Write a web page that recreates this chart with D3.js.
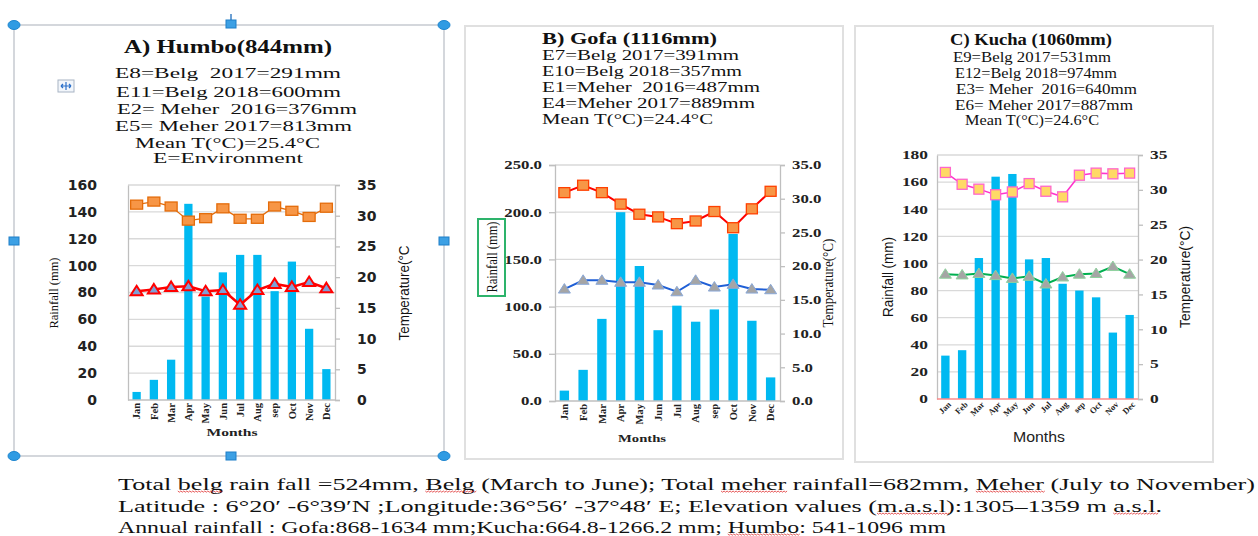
<!DOCTYPE html>
<html lang="en">
<head>
<meta charset="UTF-8" />
<title>Rainfall and temperature - Humbo, Gofa, Kucha</title>
<script src="https://d3js.org/d3.v7.min.js"></script>
<style>
  body { margin: 0; background: #fff; }
  svg { display: block; }
  text { white-space: pre; }
</style>
</head>
<body>
<svg id="chart" width="1258" height="536"></svg>
<script>
// ---- data ----
const months = ["Jan", "Feb", "Mar", "Apr", "May", "Jun", "Jul", "Aug", "sep", "Oct", "Nov", "Dec"];

const humboRain = [6, 15, 30, 146, 77, 95, 108, 108, 81, 103, 53, 23];
const humboTmax = [31.8, 32.3, 31.5, 29.2, 29.6, 31.2, 29.5, 29.5, 31.5, 30.8, 29.8, 31.3];
const humboTmin = [17.7, 18.0, 18.4, 18.5, 17.7, 17.9, 15.5, 17.9, 18.9, 18.4, 19.2, 18.2];

const gofaRain = [11, 33, 87, 200, 143, 75, 101, 84, 97, 177, 85, 25];
const gofaTmax = [30.9, 32.0, 30.9, 29.2, 27.7, 27.3, 26.3, 26.7, 28.1, 25.7, 28.5, 31.1];
const gofaTmin = [16.6, 17.9, 17.9, 17.6, 17.6, 17.2, 16.2, 17.9, 16.9, 17.3, 16.6, 16.5];

const kuchaRain = [32, 36, 104, 164, 166, 103, 104, 85, 80, 75, 49, 62];
const kuchaTmax = [32.5, 30.8, 30.1, 29.3, 29.7, 30.9, 29.8, 29.0, 32.1, 32.4, 32.3, 32.4];
const kuchaTmin = [17.9, 17.8, 18.0, 17.7, 17.3, 17.6, 16.5, 17.5, 17.9, 18.0, 19.0, 17.9];

const humboRainTicks = [0, 20, 40, 60, 80, 100, 120, 140, 160];
const gofaRainTicks = [0, 50, 100, 150, 200, 250];
const kuchaRainTicks = [0, 20, 40, 60, 80, 100, 120, 140, 160, 180];
const tempTicks = [0, 5, 10, 15, 20, 25, 30, 35];

const humboNotes = ["A) Humbo(844mm)", "E8=Belg  2017=291mm", "E11=Belg 2018=600mm", "E2= Meher  2016=376mm",
  "E5= Meher 2017=813mm", "Mean T(\u00B0C)=25.4\u00B0C", "E=Environment"];
const gofaNotes = ["B) Gofa (1116mm)", "E7=Belg 2017=391mm", "E10=Belg 2018=357mm", "E1=Meher  2016=487mm",
  "E4=Meher 2017=889mm", "Mean T(\u00B0C)=24.4\u00B0C"];
const kuchaNotes = ["C) Kucha (1060mm)", "E9=Belg 2017=531mm", "E12=Belg 2018=974mm", "E3= Meher  2016=640mm",
  "E6= Meher 2017=887mm", "Mean T(\u00B0C)=24.6\u00B0C"];

const footNotes = [
  "Total belg rain fall =524mm, Belg (March to June); Total meher rainfall=682mm, Meher (July to November)",
  "Latitude : 6\u00B020\u2032 -6\u00B039\u2032N ;Longitude:36\u00B056\u2032 -37\u00B048\u2032 E; Elevation values (m.a.s.l):1305\u20131359 m a.s.l.",
  "Annual rainfall : Gofa:868-1634 mm;Kucha:664.8-1266.2 mm; Humbo: 541-1096 mm"
];
const footUnderlined = [["belg", "Belg", "meher", "Meher"], ["m.a.s.l", "a.s.l"], ["Humbo"]];

// ---- drawing ----
const svg = d3.select("#chart");
const SERIF = "'Liberation Serif', 'Times New Roman', serif";
const SANS = "'Liberation Sans', Arial, sans-serif";
const VERD = "'DejaVu Sans', Verdana, sans-serif";

// frames behind everything
svg.append("rect").attr("x", 465).attr("y", 26).attr("width", 378).attr("height", 433)
  .attr("fill", "none").attr("stroke", "#e0e0e0").attr("stroke-width", 2);
svg.append("rect").attr("x", 855).attr("y", 26).attr("width", 358).attr("height", 436)
  .attr("fill", "none").attr("stroke", "#e0e0e0").attr("stroke-width", 2);
svg.append("rect").attr("x", 14).attr("y", 25).attr("width", 430).attr("height", 431)
  .attr("fill", "none").attr("stroke", "#d4d7dc").attr("stroke-width", 2);

// selection handles of panel A
svg.append("line").attr("x1", 231).attr("x2", 231).attr("y1", 14).attr("y2", 22)
  .attr("stroke", "#3b7fc4").attr("stroke-width", 1.5);
[[14, 25], [444, 25], [14, 456], [444, 456]].forEach(([cx, cy]) => {
  svg.append("ellipse").attr("cx", cx).attr("cy", cy).attr("rx", 6).attr("ry", 4.5)
    .attr("fill", "#2f9be3").attr("stroke", "#1f86cf");
});
[[231, 24], [14, 241], [444, 241], [231, 456]].forEach(([cx, cy]) => {
  svg.append("rect").attr("x", cx - 5).attr("y", cy - 4).attr("width", 10).attr("height", 8)
    .attr("fill", "#3da0e4").attr("stroke", "#1f7fc8");
});
// little move icon
const icon = svg.append("g").attr("transform", "translate(66,86)");
icon.append("rect").attr("x", -8).attr("y", -6).attr("width", 16).attr("height", 12)
  .attr("fill", "#f2f6fb").attr("stroke", "#a8b4c4");
icon.append("path").attr("d", "M-5,0H5M0,-4V4M-5,0l2,-2M-5,0l2,2M5,0l-2,-2M5,0l-2,2")
  .attr("stroke", "#2a6fc9").attr("stroke-width", 1.2).attr("fill", "none");

function stretch(sel, sx) {
  sel.each(function () {
    const t = d3.select(this);
    t.attr("x", +t.attr("x") / sx).attr("transform", `scale(${sx},1)`);
  });
}

function notes(lines, spec) {
  lines.forEach((s, i) => {
    const l = spec.lines[i];
    svg.append("text").attr("x", l[0]).attr("y", l[2])
      .attr("dominant-baseline", "central")
      .attr("textLength", l[1]).attr("lengthAdjust", "spacingAndGlyphs")
      .style("font-family", SERIF)
      .style("font-size", (i === 0 ? spec.titleSize : spec.size) + "px")
      .style("font-weight", i === 0 ? "bold" : "normal")
      .attr("fill", "#111").text(s);
  });
}

function rotLabel(text, x, y, len, font, size, weight) {
  svg.append("text").attr("transform", `translate(${x},${y}) rotate(-90)`)
    .attr("text-anchor", "middle").attr("dominant-baseline", "central")
    .attr("textLength", len).attr("lengthAdjust", "spacingAndGlyphs")
    .style("font-family", font).style("font-size", size + "px").style("font-weight", weight || "normal")
    .attr("fill", "#111").text(text);
}

function drawPanel(p) {
  const g = svg.append("g");
  const x = d3.scaleBand().domain(months).range([p.left, p.right])
    .paddingInner(p.barPad).paddingOuter(p.barPad / 2);
  const y = d3.scaleLinear().domain([0, p.rainMax]).range([p.bottom, p.top]);
  const yT = d3.scaleLinear().domain([0, 35]).range([p.bottom, p.top]);
  const cx = m => x(m) + x.bandwidth() / 2;

  g.selectAll(".grid").data(p.rainTicks.slice(1)).join("line").attr("class", "grid")
    .attr("x1", p.left).attr("x2", p.right).attr("y1", d => y(d)).attr("y2", d => y(d))
    .attr("stroke", "#d9d9d9").attr("stroke-width", 1.3);

  g.selectAll(".bar").data(p.rain).join("rect").attr("class", "bar")
    .attr("x", (d, i) => x(months[i])).attr("y", d => y(d))
    .attr("width", x.bandwidth()).attr("height", d => p.bottom - y(d))
    .attr("fill", "#00b9f1");

  const la = g.append("g").attr("transform", `translate(${p.left},0)`)
    .call(d3.axisLeft(y).tickValues(p.rainTicks).tickFormat(p.fmt)
      .tickSize(p.leftTick).tickPadding(p.leftPad));
  const ra = g.append("g").attr("transform", `translate(${p.right},0)`)
    .call(d3.axisRight(yT).tickValues(tempTicks).tickFormat(p.fmt)
      .tickSize(5).tickPadding(p.rightPad));
  [la, ra].forEach(a => {
    a.selectAll("path,line").attr("stroke", "#bfbfbf").attr("stroke-width", 1.3);
    a.selectAll("text").attr("fill", "#222")
      .style("font-family", p.tickFont).style("font-size", p.tickSize + "px")
      .style("font-weight", "bold");
    if (p.tickStretch) stretch(a.selectAll("text"), p.tickStretch);
  });
  g.append("line").attr("x1", p.left).attr("x2", p.right).attr("y1", p.bottom).attr("y2", p.bottom)
    .attr("stroke", p.baseColor).attr("stroke-width", 1.5);

  // month labels
  g.selectAll(".mon").data(months).join("text").attr("class", "mon")
    .attr("transform", d => p.monthRot === -90
      ? `translate(${cx(d)},${p.bottom + 3}) rotate(-90)`
      : `translate(${cx(d) + 4},${p.bottom + 4}) rotate(-45)`)
    .attr("text-anchor", "end").attr("dy", "0.35em")
    .style("font-family", SERIF).style("font-size", p.monthSize + "px").style("font-weight", "bold")
    .attr("fill", "#222").text(d => d);

  // temperature lines
  const line = d3.line().x((d, i) => cx(months[i])).y(d => yT(d));
  g.append("path").datum(p.tmax).attr("d", line).attr("fill", "none")
    .attr("stroke", p.maxLine).attr("stroke-width", p.maxWidth);
  g.append("path").datum(p.tmin).attr("d", line).attr("fill", "none")
    .attr("stroke", p.minLine).attr("stroke-width", p.minWidth);

  g.selectAll(".sq").data(p.tmax).join("rect").attr("class", "sq")
    .attr("x", (d, i) => cx(months[i]) - p.sq[0] / 2).attr("y", d => yT(d) - p.sq[1] / 2)
    .attr("width", p.sq[0]).attr("height", p.sq[1])
    .attr("fill", p.sqFill).attr("stroke", p.sqStroke).attr("stroke-width", 1.3);
  g.selectAll(".tri").data(p.tmin).join("path").attr("class", "tri")
    .attr("transform", (d, i) => `translate(${cx(months[i])},${yT(d)})`)
    .attr("d", "M0,-5.5L6,4L-6,4Z")
    .attr("fill", p.triFill).attr("stroke", p.triStroke).attr("stroke-width", p.triWidth);
}

// Panel A - Humbo
drawPanel({
  rain: humboRain, tmax: humboTmax, tmin: humboTmin, rainTicks: humboRainTicks, rainMax: 160,
  left: 128, right: 335, top: 185, bottom: 400, barPad: 0.52, fmt: d3.format("d"),
  leftTick: 0, leftPad: 31, rightPad: 17, tickFont: VERD, tickSize: 14, tickStretch: 0,
  baseColor: "#bfbfbf", monthRot: -90, monthSize: 10.5,
  maxLine: "#e46c0a", maxWidth: 1.3, sq: [12, 9], sqFill: "#f79646", sqStroke: "#e46c0a",
  minLine: "#ff0000", minWidth: 2.5, triFill: "#7f9fd6", triStroke: "#ff0000", triWidth: 2
});
// Panel B - Gofa
drawPanel({
  rain: gofaRain, tmax: gofaTmax, tmin: gofaTmin, rainTicks: gofaRainTicks, rainMax: 250,
  left: 555, right: 780, top: 165, bottom: 401, barPad: 0.5, fmt: d3.format(".1f"),
  leftTick: 6, leftPad: 7, rightPad: 7, tickFont: SERIF, tickSize: 12, tickStretch: 1.4,
  baseColor: "#bfbfbf", monthRot: -90, monthSize: 10.5,
  maxLine: "#ff0000", maxWidth: 2, sq: [11, 10], sqFill: "#f79646", sqStroke: "#ff4000",
  minLine: "#1f5fd6", minWidth: 2, triFill: "#a5a5a5", triStroke: "#8aa8d8", triWidth: 1
});
// Panel C - Kucha
drawPanel({
  rain: kuchaRain, tmax: kuchaTmax, tmin: kuchaTmin, rainTicks: kuchaRainTicks, rainMax: 180,
  left: 937, right: 1138, top: 155, bottom: 399, barPad: 0.5, fmt: d3.format("d"),
  leftTick: 0, leftPad: 9, rightPad: 7, tickFont: SERIF, tickSize: 12, tickStretch: 1.45,
  baseColor: "#ff8a8a", monthRot: -45, monthSize: 8.5,
  maxLine: "#ff33cc", maxWidth: 1.5, sq: [10, 10], sqFill: "#ffd966", sqStroke: "#ff66cc",
  minLine: "#00b050", minWidth: 2, triFill: "#a5a5a5", triStroke: "#8fd19e", triWidth: 1
});

// axis titles
rotLabel("Rainfall (mm)", 53, 293, 71, SERIF, 13);
rotLabel("Temperature(\u00B0C", 403, 293, 95, SANS, 15);
rotLabel("Rainfall (mm)", 492, 257, 71, SERIF, 14);
rotLabel("Temperature(\u00B0C)", 828, 283, 89, SERIF, 14);
rotLabel("Rainfall (mm)", 888, 277, 80, SANS, 14);
rotLabel("Temperature(\u00B0C)", 1185, 277, 102, SANS, 14);
svg.append("rect").attr("x", 478).attr("y", 219).attr("width", 27).attr("height", 77)
  .attr("fill", "none").attr("stroke", "#2db36b").attr("stroke-width", 2);

[[232, 432, 51, SERIF, 11, "bold"], [642, 438, 48, SERIF, 11, "bold"], [1039, 436, 52, SANS, 15, "normal"]]
  .forEach(([mx, my, w, f, s, fw]) => {
    svg.append("text").attr("x", mx - w / 2).attr("y", my).attr("dominant-baseline", "central")
      .attr("textLength", w).attr("lengthAdjust", "spacingAndGlyphs")
      .style("font-family", f).style("font-size", s + "px").style("font-weight", fw)
      .attr("fill", "#222").text("Months");
  });

// header notes
notes(humboNotes, { titleSize: 18, size: 15, lines: [
  [124, 208, 47], [115, 226, 73], [116, 225, 92], [117, 240, 109], [115, 237, 126], [135, 185, 143], [153, 150, 158]
] });
notes(gofaNotes, { titleSize: 17, size: 15, lines: [
  [542, 175, 38], [542, 197, 55], [542, 200, 71], [542, 218, 87], [542, 213, 103], [542, 171, 119]
] });
notes(kuchaNotes, { titleSize: 16, size: 14, lines: [
  [950, 162, 39], [953, 158, 57], [955, 162, 73], [956, 181, 89], [955, 178, 105], [965, 134, 120]
] });

// footnotes with wavy underlines
const footY = [484, 506, 527], footW = [1137, 1044, 828];
footNotes.forEach((s, i) => {
  const t = svg.append("text").attr("x", 118).attr("y", footY[i]).attr("dominant-baseline", "central")
    .attr("textLength", footW[i]).attr("lengthAdjust", "spacingAndGlyphs")
    .style("font-family", SERIF).style("font-size", "16px").attr("fill", "#111").text(s);
  const node = t.node();
  let from = 0;
  footUnderlined[i].forEach(w => {
    const k = s.indexOf(w, from);
    if (k < 0) return;
    from = k + w.length;
    const x0 = node.getStartPositionOfChar(k).x, x1 = node.getEndPositionOfChar(k + w.length - 1).x;
    const yy = footY[i] + 7;
    let d = `M${x0},${yy}`;
    for (let xx = x0; xx < x1; xx += 3) d += `l1.5,1.2l1.5,-1.2`;
    svg.append("path").attr("d", d).attr("fill", "none").attr("stroke", "#e03030").attr("stroke-width", 0.8);
  });
});
</script>
</body>
</html>
